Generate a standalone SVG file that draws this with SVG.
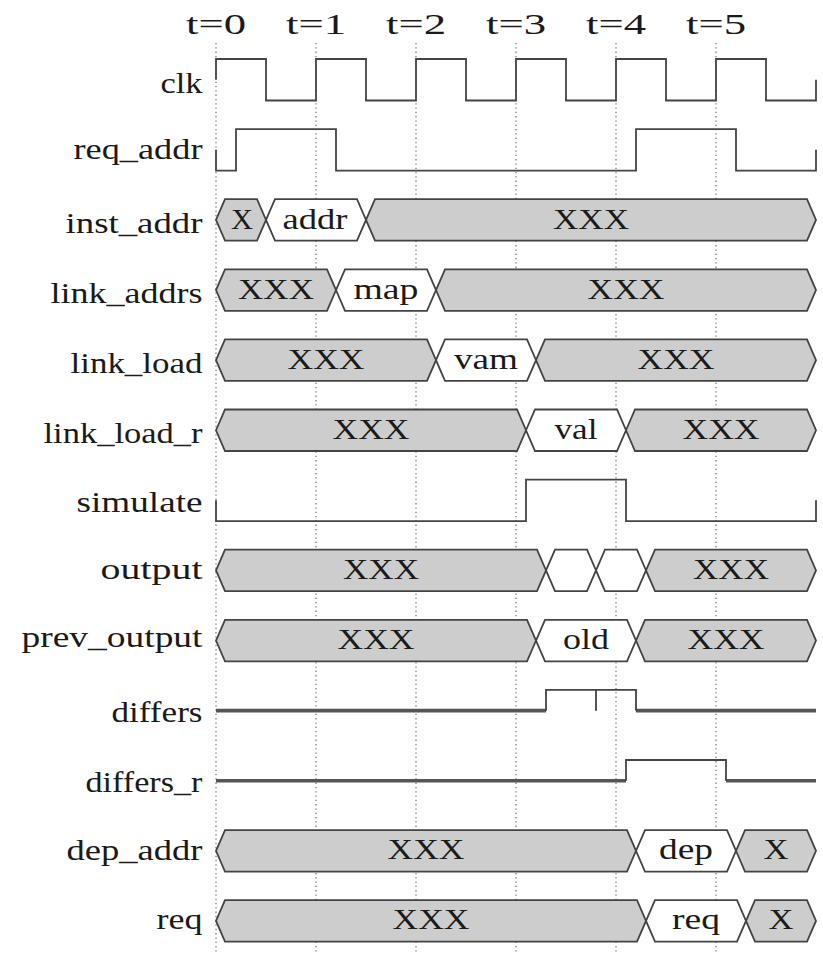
<svg xmlns="http://www.w3.org/2000/svg" width="823" height="954" viewBox="0 0 823 954">
<style>
text{font-family:"Liberation Serif","Times New Roman",serif;font-size:29px;fill:#1a1a1a}
.lbl{text-anchor:end}
.tv{text-anchor:middle}
.bt{text-anchor:middle;font-size:30px}
.grid line{stroke:#7a7a7a;stroke-width:1.3;stroke-dasharray:1.3 3}
.sig{fill:none;stroke:#444;stroke-width:1.8;stroke-linejoin:miter}
.z{fill:none;stroke:#555;stroke-width:3.6}
.bg{fill:#cdcdcd;stroke:#444;stroke-width:1.8;stroke-linejoin:miter}
.bw{fill:#fff;stroke:#444;stroke-width:1.8;stroke-linejoin:miter}
</style>
<rect width="823" height="954" fill="#fff"/>
<g id="grid" class="grid">
<line x1="216" y1="43" x2="216" y2="952"/>
<line x1="316" y1="43" x2="316" y2="952"/>
<line x1="416" y1="43" x2="416" y2="952"/>
<line x1="516" y1="43" x2="516" y2="952"/>
<line x1="616" y1="43" x2="616" y2="952"/>
<line x1="716" y1="43" x2="716" y2="952"/>
</g>
<g id="time-labels">
<text class="tv" x="216" y="34" textLength="60" lengthAdjust="spacingAndGlyphs">t=0</text>
<text class="tv" x="316" y="34" textLength="60" lengthAdjust="spacingAndGlyphs">t=1</text>
<text class="tv" x="416" y="34" textLength="60" lengthAdjust="spacingAndGlyphs">t=2</text>
<text class="tv" x="516" y="34" textLength="60" lengthAdjust="spacingAndGlyphs">t=3</text>
<text class="tv" x="616" y="34" textLength="60" lengthAdjust="spacingAndGlyphs">t=4</text>
<text class="tv" x="716" y="34" textLength="60" lengthAdjust="spacingAndGlyphs">t=5</text>
</g>
<g id="clk">
<text class="lbl" x="202.5" y="93" textLength="42" lengthAdjust="spacingAndGlyphs">clk</text>
<path class="sig" d="M216,79.75 V59 H266 V100.5 H316 V59 H366 V100.5 H416 V59 H466 V100.5 H516 V59 H566 V100.5 H616 V59 H666 V100.5 H716 V59 H766 V100.5 H816 V79.75"/>
</g>
<g id="req_addr">
<text class="lbl" x="202.5" y="159" textLength="129" lengthAdjust="spacingAndGlyphs">req_addr</text>
<path class="sig" d="M216,149.85 V170.6 H236 V129.1 H336 V170.6 H636 V129.1 H736 V170.6 H816 V149.85"/>
</g>
<g id="inst_addr">
<text class="lbl" x="202.5" y="232.5" textLength="137" lengthAdjust="spacingAndGlyphs">inst_addr</text>
<polygon class="bg" points="216,219.95 225,199.2 257,199.2 266,219.95 257,240.7 225,240.7"/>
<polygon class="bw" points="266,219.95 275,199.2 357,199.2 366,219.95 357,240.7 275,240.7"/>
<polygon class="bg" points="366,219.95 375,199.2 807,199.2 816,219.95 807,240.7 375,240.7"/>
<text class="bt" x="242" y="228.5" textLength="22" lengthAdjust="spacingAndGlyphs">X</text>
<text class="bt" x="315" y="228.5" textLength="65" lengthAdjust="spacingAndGlyphs">addr</text>
<text class="bt" x="591" y="228.5" textLength="76" lengthAdjust="spacingAndGlyphs">XXX</text>
</g>
<g id="link_addrs">
<text class="lbl" x="202.5" y="302.5" textLength="152" lengthAdjust="spacingAndGlyphs">link_addrs</text>
<polygon class="bg" points="216,290.05 225,269.3 327,269.3 336,290.05 327,310.8 225,310.8"/>
<polygon class="bw" points="336,290.05 345,269.3 427,269.3 436,290.05 427,310.8 345,310.8"/>
<polygon class="bg" points="436,290.05 445,269.3 807,269.3 816,290.05 807,310.8 445,310.8"/>
<text class="bt" x="276" y="298.5" textLength="76" lengthAdjust="spacingAndGlyphs">XXX</text>
<text class="bt" x="386" y="298.5" textLength="65" lengthAdjust="spacingAndGlyphs">map</text>
<text class="bt" x="626" y="298.5" textLength="77" lengthAdjust="spacingAndGlyphs">XXX</text>
</g>
<g id="link_load">
<text class="lbl" x="202.5" y="372.5" textLength="132" lengthAdjust="spacingAndGlyphs">link_load</text>
<polygon class="bg" points="216,360.15 225,339.4 427,339.4 436,360.15 427,380.9 225,380.9"/>
<polygon class="bw" points="436,360.15 445,339.4 527,339.4 536,360.15 527,380.9 445,380.9"/>
<polygon class="bg" points="536,360.15 545,339.4 807,339.4 816,360.15 807,380.9 545,380.9"/>
<text class="bt" x="326" y="368.5" textLength="77" lengthAdjust="spacingAndGlyphs">XXX</text>
<text class="bt" x="486" y="368.5" textLength="64" lengthAdjust="spacingAndGlyphs">vam</text>
<text class="bt" x="676" y="368.5" textLength="77" lengthAdjust="spacingAndGlyphs">XXX</text>
</g>
<g id="link_load_r">
<text class="lbl" x="202.5" y="442.5" textLength="159" lengthAdjust="spacingAndGlyphs">link_load_r</text>
<polygon class="bg" points="216,430.25 225,409.5 517,409.5 526,430.25 517,451 225,451"/>
<polygon class="bw" points="526,430.25 535,409.5 617,409.5 626,430.25 617,451 535,451"/>
<polygon class="bg" points="626,430.25 635,409.5 807,409.5 816,430.25 807,451 635,451"/>
<text class="bt" x="371" y="438.5" textLength="77" lengthAdjust="spacingAndGlyphs">XXX</text>
<text class="bt" x="576" y="438.5" textLength="43" lengthAdjust="spacingAndGlyphs">val</text>
<text class="bt" x="721" y="438.5" textLength="77" lengthAdjust="spacingAndGlyphs">XXX</text>
</g>
<g id="simulate">
<text class="lbl" x="202.5" y="511.5" textLength="126" lengthAdjust="spacingAndGlyphs">simulate</text>
<path class="sig" d="M216,500.35 V521.1 H526 V479.6 H626 V521.1 H816 V500.35"/>
</g>
<g id="output">
<text class="lbl" x="202.5" y="578.5" textLength="102" lengthAdjust="spacingAndGlyphs">output</text>
<polygon class="bg" points="216,570.45 225,549.7 537,549.7 546,570.45 537,591.2 225,591.2"/>
<polygon class="bw" points="546,570.45 555,549.7 587,549.7 596,570.45 587,591.2 555,591.2"/>
<polygon class="bw" points="596,570.45 605,549.7 637,549.7 646,570.45 637,591.2 605,591.2"/>
<polygon class="bg" points="646,570.45 655,549.7 807,549.7 816,570.45 807,591.2 655,591.2"/>
<text class="bt" x="381" y="578.5" textLength="76" lengthAdjust="spacingAndGlyphs">XXX</text>
<text class="bt" x="731" y="578.5" textLength="76" lengthAdjust="spacingAndGlyphs">XXX</text>
</g>
<g id="prev_output">
<text class="lbl" x="202.5" y="646.5" textLength="181" lengthAdjust="spacingAndGlyphs">prev_output</text>
<polygon class="bg" points="216,640.55 225,619.8 527,619.8 536,640.55 527,661.3 225,661.3"/>
<polygon class="bw" points="536,640.55 545,619.8 627,619.8 636,640.55 627,661.3 545,661.3"/>
<polygon class="bg" points="636,640.55 645,619.8 807,619.8 816,640.55 807,661.3 645,661.3"/>
<text class="bt" x="376" y="648.5" textLength="77" lengthAdjust="spacingAndGlyphs">XXX</text>
<text class="bt" x="586" y="648.5" textLength="46" lengthAdjust="spacingAndGlyphs">old</text>
<text class="bt" x="726" y="648.5" textLength="77" lengthAdjust="spacingAndGlyphs">XXX</text>
</g>
<g id="differs">
<text class="lbl" x="202.5" y="721.5" textLength="91" lengthAdjust="spacingAndGlyphs">differs</text>
<path class="z" d="M216,710.65 H546 M636,710.65 H816"/>
<path class="sig" d="M546,710.65 V689.9 H636 V710.65 M596,689.9 V710.65"/>
</g>
<g id="differs_r">
<text class="lbl" x="202.5" y="791.5" textLength="117" lengthAdjust="spacingAndGlyphs">differs_r</text>
<path class="z" d="M216,780.75 H626 M726,780.75 H816"/>
<path class="sig" d="M626,780.75 V760 H726 V780.75"/>
</g>
<g id="dep_addr">
<text class="lbl" x="202.5" y="860" textLength="136" lengthAdjust="spacingAndGlyphs">dep_addr</text>
<polygon class="bg" points="216,850.85 225,830.1 627,830.1 636,850.85 627,871.6 225,871.6"/>
<polygon class="bw" points="636,850.85 645,830.1 727,830.1 736,850.85 727,871.6 645,871.6"/>
<polygon class="bg" points="736,850.85 745,830.1 807,830.1 816,850.85 807,871.6 745,871.6"/>
<text class="bt" x="426" y="858.8" textLength="77" lengthAdjust="spacingAndGlyphs">XXX</text>
<text class="bt" x="686" y="858.8" textLength="54" lengthAdjust="spacingAndGlyphs">dep</text>
<text class="bt" x="776" y="858.8" textLength="25" lengthAdjust="spacingAndGlyphs">X</text>
</g>
<g id="req">
<text class="lbl" x="202.5" y="928.5" textLength="46" lengthAdjust="spacingAndGlyphs">req</text>
<polygon class="bg" points="216,920.95 225,900.2 637,900.2 646,920.95 637,941.7 225,941.7"/>
<polygon class="bw" points="646,920.95 655,900.2 737,900.2 746,920.95 737,941.7 655,941.7"/>
<polygon class="bg" points="746,920.95 755,900.2 807,900.2 816,920.95 807,941.7 755,941.7"/>
<text class="bt" x="431" y="928.8" textLength="77" lengthAdjust="spacingAndGlyphs">XXX</text>
<text class="bt" x="696" y="928.8" textLength="48" lengthAdjust="spacingAndGlyphs">req</text>
<text class="bt" x="781" y="928.8" textLength="25" lengthAdjust="spacingAndGlyphs">X</text>
</g>
</svg>
